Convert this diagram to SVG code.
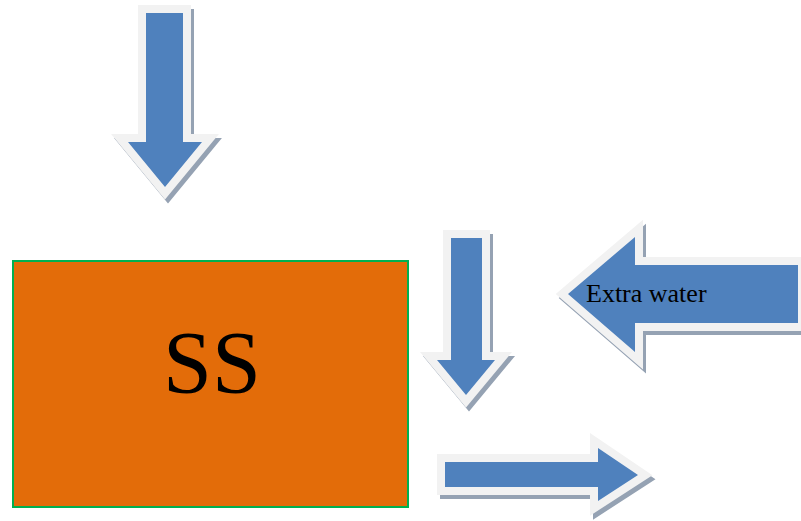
<svg xmlns="http://www.w3.org/2000/svg" width="801" height="521" viewBox="0 0 801 521">
  <style>
    .shadow { fill: #95a2b3; stroke: #95a2b3; stroke-width: 16; stroke-linejoin: miter; }
    .arrow { fill: #4f81bd; stroke: #f2f2f2; stroke-width: 16; stroke-linejoin: miter; paint-order: stroke; }
    .box { fill: #e36c09; stroke: #00b050; stroke-width: 2; }
    .label { font-family: "Liberation Serif", "Times New Roman", serif; fill: #000; }
  </style>
  <rect width="801" height="521" fill="#ffffff"/>
  <g id="ss-node">
    <rect class="box" x="13" y="261" width="395" height="246"/>
    <text class="label" x="212" y="392" font-size="88" text-anchor="middle">SS</text>
  </g>
  <g id="connectors">
    <g id="arrow-top">
      <path class="shadow" transform="translate(3,4)" d="M146,13 H183 V142 H202 L165,187 L128,142 H146 Z"/>
      <path class="arrow" d="M146,13 H183 V142 H202 L165,187 L128,142 H146 Z"/>
    </g>
    <g id="arrow-middle">
      <path class="shadow" transform="translate(3,4)" d="M451,238 H482 V360 H495 L466,395 L437,360 H451 Z"/>
      <path class="arrow" d="M451,238 H482 V360 H495 L466,395 L437,360 H451 Z"/>
    </g>
    <g id="arrow-extra-water">
      <path class="shadow" transform="translate(3,4)" d="M798,265 H635 V237 L568,294 L635,352 V323 H798 Z"/>
      <path class="arrow" d="M798,265 H635 V237 L568,294 L635,352 V323 H798 Z"/>
      <text class="label" x="586" y="302" font-size="26">Extra water</text>
    </g>
    <g id="arrow-out">
      <path class="shadow" transform="translate(3,4)" d="M445,462 H598 V448 L638,475 L598,501 V487 H445 Z"/>
      <path class="arrow" d="M445,462 H598 V448 L638,475 L598,501 V487 H445 Z"/>
    </g>
  </g>
</svg>
